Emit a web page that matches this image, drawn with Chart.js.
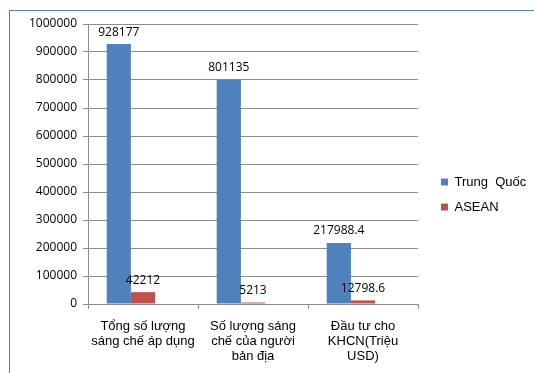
<!DOCTYPE html>
<html>
<head>
<meta charset="utf-8">
<script src="https://cdn.jsdelivr.net/npm/chart.js@4.4.0/dist/chart.umd.min.js"></script>
<style>
  html, body { margin:0; padding:0; background:#fff; overflow:hidden; }
  #wrap { position:relative; width:534px; height:373px; }
  #frame { position:absolute; left:9px; top:10px; width:600px; height:400px;
           border-left:1px solid #4f81bd; border-top:1px solid #4f81bd; }
  #chart { position:absolute; left:0; top:0; }
</style>
</head>
<body>
<div id="wrap">
  <div id="frame"></div>
  <canvas id="chart" width="534" height="373"></canvas>
</div>
<script>
var categories = [
  ['Tổng số lượng', 'sáng chế áp dụng'],
  ['Số lượng sáng', 'chế của người', 'bản địa'],
  ['Đầu tư cho', 'KHCN(Triệu', 'USD)']
];
var trungQuoc = [928177, 801135, 217988.4];
var asean = [42212, 5213, 12798.6];
var emptySeries = [null, null, null];
var yTicks = [0, 100000, 200000, 300000, 400000, 500000, 600000, 700000, 800000, 900000, 1000000];

// value labels above each bar
var barLabels = {
  id: 'barLabels',
  afterDatasetsDraw: function(chart) {
    var ctx = chart.ctx;
    ctx.save();
    ctx.font = '12px "Open Sans"';
    ctx.fillStyle = '#000';
    ctx.textAlign = 'center';
    ctx.textBaseline = 'middle';
    chart.data.datasets.forEach(function(ds, i) {
      var meta = chart.getDatasetMeta(i);
      meta.data.forEach(function(bar, j) {
        var v = ds.data[j];
        if (v === null) return;
        ctx.fillText(String(v), bar.x, bar.y - 12);
      });
    });
    ctx.restore();
  }
};

var chart = new Chart(document.getElementById('chart'), {
  type: 'bar',
  data: {
    labels: categories,
    datasets: [
      { label: 'Trung  Quốc', data: trungQuoc, backgroundColor: '#4f81bd' },
      { label: 'ASEAN', data: asean, backgroundColor: '#c0504d' },
      { label: '', data: emptySeries, backgroundColor: '#9bbb59' }
    ]
  },
  options: {
    responsive: false,
    animation: false,
    events: [],
    layout: { padding: { top: 24, left: 0, right: 2, bottom: 8 } },
    datasets: { bar: { categoryPercentage: 0.66, barPercentage: 1 } },
    plugins: {
      tooltip: { enabled: false },
      legend: {
        position: 'right',
        maxWidth: 103,
        labels: {
          boxWidth: 7,
          boxHeight: 7,
          padding: 12,
          color: '#000',
          font: { family: '"Liberation Sans", Arial, sans-serif', size: 13 },
          filter: function(item) { return item.datasetIndex < 2; }
        }
      }
    },
    scales: {
      x: {
        grid: { drawOnChartArea: false, drawTicks: true, tickLength: 5, color: '#8c8c8c' },
        border: { color: '#8c8c8c' },
        ticks: {
          padding: 10,
          maxRotation: 0,
          color: '#000',
          font: { family: '"Liberation Sans", Arial, sans-serif', size: 13, lineHeight: 1.15 }
        },
        afterFit: function(s) { s.height = 61; }
      },
      y: {
        min: 0,
        max: 1000000,
        afterBuildTicks: function(s) {
          s.ticks = yTicks.map(function(v) { return { value: v }; });
        },
        grid: { color: '#8c8c8c', tickLength: 5 },
        border: { color: '#8c8c8c' },
        ticks: {
          padding: 6,
          color: '#000',
          font: { family: '"Open Sans"', size: 12 },
          callback: function(v) { return String(v); }
        },
        afterFit: function(s) { s.width = 88; }
      },
      gap: {
        type: 'linear',
        position: 'right',
        grid: { display: false },
        border: { display: false },
        ticks: { display: false },
        afterFit: function(s) { s.width = 11; }
      }
    }
  },
  plugins: [barLabels]
});
</script>
</body>
</html>
